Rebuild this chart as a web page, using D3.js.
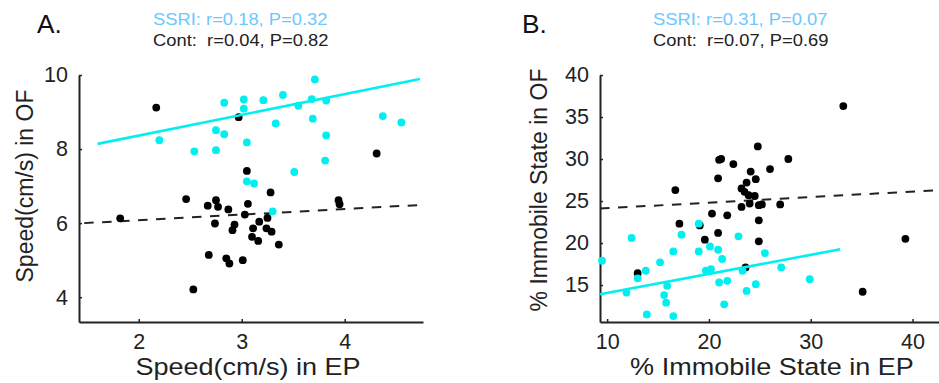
<!DOCTYPE html>
<html><head><meta charset="utf-8">
<script src="https://cdn.jsdelivr.net/npm/d3@7"></script>
<style>
html,body{margin:0;padding:0;background:#fff;}
svg text{font-family:"Liberation Sans",Arial,Helvetica,sans-serif;white-space:pre;}
</style></head>
<body><svg id="c" width="939" height="383"></svg>
<script>
// ---- Panel A data: Speed(cm/s) EP (x) vs OF (y)
const aSsriX = [2.83,3.02,3.02,3.21,3.40,3.33,2.20,2.75,2.83,3.05,2.54,2.75,3.05,3.12,3.71,3.55,3.68,3.82,3.69,4.37,4.55,3.82,3.81,3.51,3.30];
const aSsriY = [9.25,9.34,9.09,9.32,9.46,8.69,8.24,8.51,8.40,8.18,7.94,7.97,7.13,7.07,9.88,9.17,9.35,9.31,8.82,8.89,8.72,8.37,7.69,7.38,6.32];
const aContX = [2.17,2.97,3.05,3.28,2.46,2.67,2.75,2.77,2.87,3.06,3.03,3.25,3.17,1.82,2.74,2.93,2.91,3.11,3.24,3.29,3.10,3.16,3.36,2.68,2.85,2.88,3.01,2.53,4.31,3.94,3.95];
const aContY = [9.12,8.86,7.41,6.83,6.65,6.47,6.62,6.44,6.37,6.52,6.23,6.14,6.04,6.13,5.99,5.96,5.81,5.86,5.86,5.77,5.63,5.52,5.42,5.14,5.05,4.91,5.00,4.21,7.88,6.62,6.51];
const aFitSsri = [[1.60,8.14],[4.73,9.89]];
const aFitCont = [[1.47,6.00],[4.73,6.49]];
const aXTicks = [2,3,4];
const aYTicks = [4,6,8,10];

// ---- Panel B data: % Immobile State EP (x) vs OF (y)
const bSsriX = [9.5,12.4,17.3,19.0,16.5,19.0,20.1,20.9,21.3,22.9,15.2,13.8,13.0,11.9,19.7,20.2,23.3,15.9,15.6,15.8,21.0,21.8,23.7,24.6,21.5,13.9,16.5,25.5,27.1,29.9];
const bSsriY = [17.9,20.6,21.0,22.3,19.0,19.0,19.6,19.2,18.1,20.8,17.7,16.7,15.8,14.1,16.7,16.9,16.7,14.9,13.8,12.9,15.3,15.5,14.3,15.1,12.7,11.5,11.3,18.8,17.1,15.7];
const bContX = [24.8,21.0,21.2,22.4,24.1,20.9,24.6,16.7,23.2,23.7,23.5,24.5,23.2,24.0,24.9,20.3,21.8,17.1,19.1,20.9,19.6,24.9,24.9,13.0,23.6,33.2,27.8,26.0,25.2,27.0,39.3,35.1,23.9];
const bContY = [31.5,29.9,30.0,29.4,28.5,27.7,27.6,26.3,26.5,27.2,26.1,25.6,24.3,24.7,24.5,23.5,23.3,22.3,22.1,21.2,20.4,22.7,20.2,16.4,17.1,36.3,30.0,28.8,24.6,24.6,20.5,14.2,25.7];
const bFitSsri = [[9.3,13.9],[32.9,19.25]];
const bFitCont = [[9.3,24.1],[42.6,26.3]];
const bXTicks = [10,20,30,40];
const bYTicks = [15,20,25,30,35,40];

const ssriColor = "#00f0f0", contColor = "#000", statColor = "#6cc8ff";

const svg = d3.select("#c");

function txt(g, x, y, size, sx, fill, s, anchor){
  return g.append("text").attr("transform",`translate(${x},${y}) scale(${sx},1)`)
    .attr("font-size",size).attr("fill",fill).attr("text-anchor",anchor||"start").text(s);
}

function panel(o){
  const g = svg.append("g");
  const x = d3.scaleLinear().domain(o.xDom).range(o.xRange);
  const y = d3.scaleLinear().domain(o.yDom).range(o.yRange);
  const fmt = d3.format("d");
  const xa = g.append("g").attr("transform",`translate(0,${o.yRange[0]})`)
    .call(d3.axisBottom(x).tickValues(o.xTicks).tickFormat(fmt).tickSizeInner(-3).tickSizeOuter(0).tickPadding(12));
  const ya = g.append("g").attr("transform",`translate(${o.xRange[0]},0)`)
    .call(d3.axisLeft(y).tickValues(o.yTicks).tickFormat(fmt).tickSizeInner(-3).tickSizeOuter(0).tickPadding(11));
  [xa,ya].forEach(a=>{
    a.select(".domain").attr("stroke","#222").attr("stroke-width",2);
    a.selectAll(".tick line").attr("stroke","#222").attr("stroke-width",1.5);
    a.selectAll(".tick text").attr("font-size",21.5).attr("fill","#222")
      .attr("font-family","Liberation Sans,Arial,sans-serif");
  });
  const line = d3.line().x(d=>x(d[0])).y(d=>y(d[1]));
  g.append("path").datum(o.fitCont).attr("d",line).attr("fill","none")
    .attr("stroke","#222").attr("stroke-width",2).attr("stroke-dasharray","9.5,8.5");
  const cont = o.contX.map((v,i)=>[v,o.contY[i]]);
  const ssri = o.ssriX.map((v,i)=>[v,o.ssriY[i]]);
  g.append("g").selectAll("circle").data(cont).join("circle")
    .attr("cx",d=>x(d[0])).attr("cy",d=>y(d[1])).attr("r",3.9).attr("fill",contColor);
  g.append("g").selectAll("circle").data(ssri).join("circle")
    .attr("cx",d=>x(d[0])).attr("cy",d=>y(d[1])).attr("r",3.9).attr("fill",ssriColor);
  g.append("path").datum(o.fitSsri).attr("d",line).attr("fill","none")
    .attr("stroke",ssriColor).attr("stroke-width",2.6);
  txt(g, o.letterX, 33, 25, 1.05, "#111", o.letter);
  txt(g, o.statX, 25, 17, 1.08, statColor, o.stat1);
  txt(g, o.statX, 46, 17, 1.08, "#222", o.stat2);
  txt(g, o.xTitleX, 375, 23.5, 1.15, "#222", o.xTitle, "middle");
  g.append("text").attr("transform",`translate(${o.yTitleX},${o.yTitleY}) rotate(-90)`).attr("text-anchor","middle")
    .attr("font-size",23).attr("fill","#222").text(o.yTitle);
}

panel({xDom:[1.42,4.76], xRange:[79,423], yDom:[3.33,10], yRange:[322,75],
  xTicks:aXTicks, yTicks:aYTicks, ssriX:aSsriX, ssriY:aSsriY, contX:aContX, contY:aContY,
  fitSsri:aFitSsri, fitCont:aFitCont, letter:"A.", letterX:37, statX:153,
  stat1:"SSRI: r=0.18, P=0.32", stat2:"Cont:  r=0.04, P=0.82",
  xTitle:"Speed(cm/s) in EP", xTitleX:248, yTitle:"Speed(cm/s) in OF", yTitleX:33, yTitleY:186});

panel({xDom:[9.3,42.6], xRange:[600,939], yDom:[10.6,40], yRange:[322,75],
  xTicks:bXTicks, yTicks:bYTicks, ssriX:bSsriX, ssriY:bSsriY, contX:bContX, contY:bContY,
  fitSsri:bFitSsri, fitCont:bFitCont, letter:"B.", letterX:522, statX:653,
  stat1:"SSRI: r=0.31, P=0.07", stat2:"Cont:  r=0.07, P=0.69",
  xTitle:"% Immobile State in EP", xTitleX:772, yTitle:"% Immobile State in OF", yTitleX:547, yTitleY:190});
</script></body></html>
